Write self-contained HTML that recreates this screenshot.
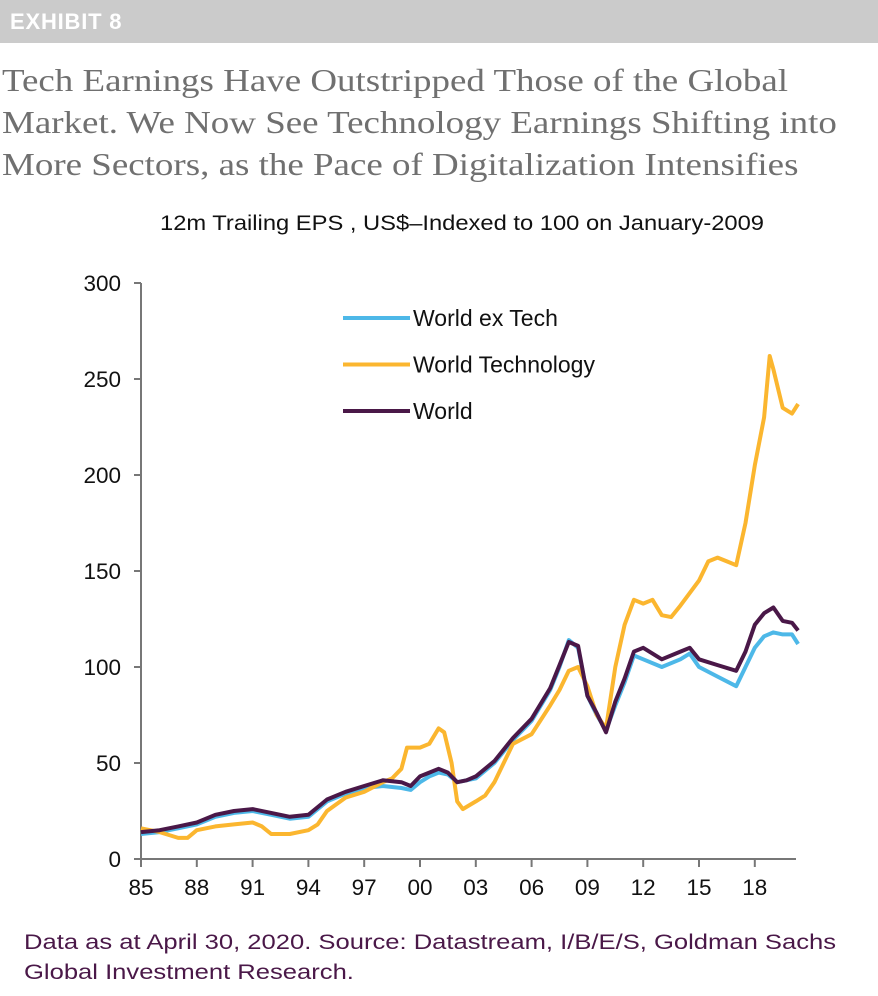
<!DOCTYPE html>
<html><head><meta charset="utf-8">
<style>
body{margin:0;width:878px;height:996px;background:#fff;overflow:hidden;font-family:"Liberation Sans",sans-serif;position:relative}
#hdr{position:absolute;left:0;top:0;width:878px;height:43px;background:#cbcbcb}
#hdr span{position:absolute;left:10px;top:9px;color:#fff;font-weight:bold;font-size:22px;letter-spacing:0.8px}
#title{position:absolute;left:2px;top:59px;font-family:"Liberation Serif",serif;font-size:32px;line-height:42px;color:#707070;transform:scaleX(1.155);transform-origin:0 0;white-space:nowrap}
#foot{position:absolute;left:24px;top:927px;font-size:21.5px;line-height:30px;color:#4a1848;transform:scaleX(1.19);transform-origin:0 0;white-space:nowrap}
</style></head><body>
<div id="hdr"><span>EXHIBIT 8</span></div>
<div id="title">Tech Earnings Have Outstripped Those of the Global<br>Market. We Now See Technology Earnings Shifting into<br>More Sectors, as the Pace of Digitalization Intensifies</div>
<svg id="chart" width="878" height="996" style="position:absolute;left:0;top:0">
<text x="462" y="230" text-anchor="middle" font-size="21" textLength="604" lengthAdjust="spacingAndGlyphs" fill="#111">12m Trailing EPS , US$–Indexed to 100 on January-2009</text>
<g id="axes"></g><g id="lines"></g><g id="legend"></g>
</svg>
<div id="foot">Data as at April 30, 2020. Source: Datastream, I/B/E/S, Goldman Sachs<br>Global Investment Research.</div>
<script>
const yTicks=[0,50,100,150,200,250,300];
const xTickYears=[1985,1988,1991,1994,1997,2000,2003,2006,2009,2012,2015,2018];
const xTickLabels=["85","88","91","94","97","00","03","06","09","12","15","18"];
const seriesNames=["World ex Tech","World Technology","World"];
const seriesColors=["#4db8e8","#fbb62f","#4a1848"];
const exTechYears=[1985,1986,1987,1988,1989,1990,1991,1992,1993,1994,1995,1996,1997,1998,1999,1999.5,2000,2000.5,2001,2001.5,2002,2002.5,2003,2004,2005,2006,2007,2007.5,2008,2008.5,2009,2009.5,2010,2010.5,2011,2011.5,2012,2013,2014,2014.5,2015,2016,2017,2017.5,2018,2018.5,2019,2019.5,2020,2020.33];
const exTechVals=[13,14,16,18,22,24,25,23,21,22,30,34,37,38,37,36,40,43,45,44,40,41,42,50,62,72,88,100,114,110,85,75,67,80,92,106,104,100,104,107,100,95,90,100,110,116,118,117,117,112];
const worldYears=[1985,1986,1987,1988,1989,1990,1991,1992,1993,1994,1995,1996,1997,1998,1999,1999.5,2000,2000.5,2001,2001.5,2002,2002.5,2003,2004,2005,2006,2007,2007.5,2008,2008.5,2009,2009.5,2010,2010.5,2011,2011.5,2012,2013,2014,2014.5,2015,2016,2017,2017.5,2018,2018.5,2019,2019.5,2020,2020.33];
const worldVals=[14,15,17,19,23,25,26,24,22,23,31,35,38,41,40,38,43,45,47,45,40,41,43,51,63,73,89,101,113,111,85,76,66,82,94,108,110,104,108,110,104,101,98,108,122,128,131,124,123,119];
const techYears=[1985,1986,1987,1987.5,1988,1989,1990,1991,1991.5,1992,1993,1994,1994.5,1995,1996,1997,1998,1998.5,1999,1999.3,2000,2000.5,2001,2001.3,2001.7,2002,2002.3,2003,2003.5,2004,2005,2006,2007,2007.5,2008,2008.5,2009,2009.5,2010,2010.5,2011,2011.5,2012,2012.5,2013,2013.5,2014,2015,2015.5,2016,2016.5,2017,2017.5,2018,2018.5,2018.8,2019,2019.5,2020,2020.33];
const techVals=[16,14,11,11,15,17,18,19,17,13,13,15,18,25,32,35,40,42,47,58,58,60,68,66,50,30,26,30,33,40,60,65,80,88,98,100,90,75,68,100,122,135,133,135,127,126,132,145,155,157,155,153,175,205,230,262,255,235,232,237];
const X0=141,PX=18.6,Y0=859,PY=1.92;
const xs=y=>X0+(y-1985)*PX, ys=v=>Y0-v*PY;
const NS="http://www.w3.org/2000/svg";
function mk(tag,attrs,parent){const e=document.createElementNS(NS,tag);for(const k in attrs)e.setAttribute(k,attrs[k]);parent.appendChild(e);return e;}
const ax=document.getElementById('axes');
let yl=mk('line',{x1:X0,y1:ys(300),x2:X0,y2:Y0,stroke:'#777','stroke-width':2},ax);


let xl=mk('line',{x1:X0,y1:Y0,x2:796,y2:Y0,stroke:'#777','stroke-width':2},ax);


yTicks.forEach(v=>{
  mk('line',{x1:X0-7,y1:ys(v),x2:X0,y2:ys(v),stroke:'#777','stroke-width':2},ax);
  const t=mk('text',{x:X0-20,y:ys(v)+8,'text-anchor':'end','font-size':22.5,fill:'#111'},ax);t.textContent=v;
  
  
});
xTickYears.forEach((yr,i)=>{
  mk('line',{x1:xs(yr),y1:Y0,x2:xs(yr),y2:Y0+8,stroke:'#777','stroke-width':2},ax);
  const t=mk('text',{x:xs(yr),y:Y0+36,'text-anchor':'middle','font-size':22.5,fill:'#111'},ax);t.textContent=xTickLabels[i];
  
  
});
const lg=document.getElementById('lines');
const data=[[exTechYears,exTechVals,'world-ex-tech-line'],[techYears,techVals,'world-technology-line'],[worldYears,worldVals,'world-line']];
data.forEach(([yrs,vals,name],i)=>{
  const d=yrs.map((y,j)=>(j?'L':'M')+xs(y).toFixed(1)+','+ys(vals[j]).toFixed(1)).join('');
  const p=mk('path',{d:d,fill:'none',stroke:seriesColors[i],'stroke-width':4,'stroke-linejoin':'round'},lg);
  
  
});
const leg=document.getElementById('legend');
seriesNames.forEach((n,i)=>{
  const y=318+i*46.5;
  const l=mk('line',{x1:343,y1:y,x2:410,y2:y,stroke:seriesColors[i],'stroke-width':4},leg);
  
  
  const t=mk('text',{x:413,y:y+8,'font-size':23,fill:'#111'},leg);t.textContent=n;
  
  
});
</script>
</body></html>
